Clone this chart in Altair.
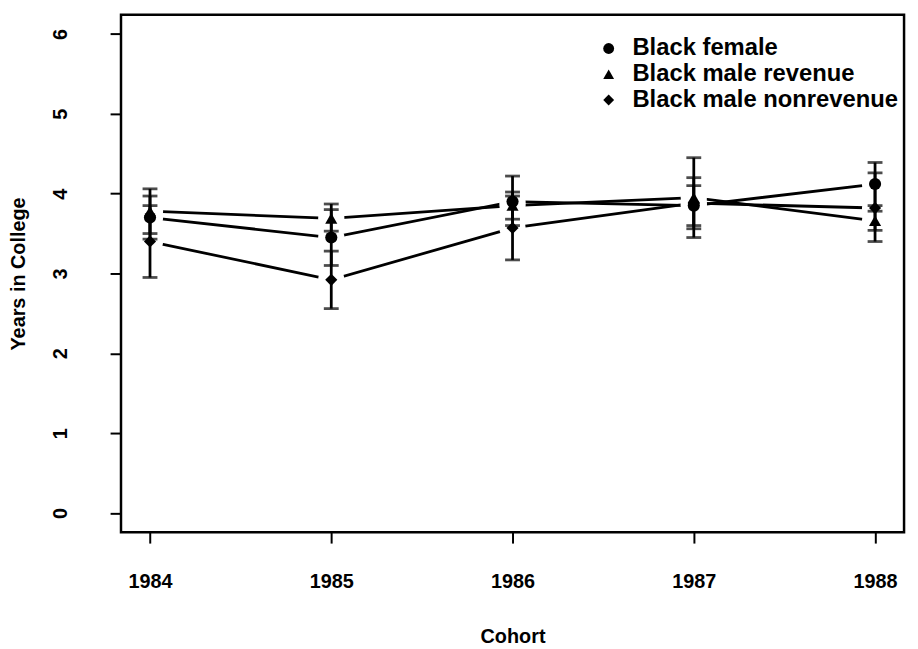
import altair as alt
import pandas as pd

years = [1984, 1985, 1986, 1987, 1988]
series_names = ["Black female", "Black male revenue", "Black male nonrevenue"]

female = [3.70, 3.45, 3.90, 3.85, 4.12]
female_lo = [3.43, 3.10, 3.60, 3.60, 3.85]
female_hi = [3.97, 3.80, 4.22, 4.10, 4.39]

revenue = [3.78, 3.69, 3.85, 3.95, 3.66]
revenue_lo = [3.50, 3.53, 3.68, 3.45, 3.54]
revenue_hi = [4.06, 3.87, 4.02, 4.45, 3.78]

nonrevenue = [3.40, 2.92, 3.57, 3.88, 3.82]
nonrevenue_lo = [2.95, 2.56, 3.17, 3.56, 3.40]
nonrevenue_hi = [3.85, 3.28, 3.97, 4.20, 4.26]

y_ticks = [0, 1, 2, 3, 4, 5, 6]

rows = []
for name, vals, lo, hi in [
    (series_names[0], female, female_lo, female_hi),
    (series_names[1], revenue, revenue_lo, revenue_hi),
    (series_names[2], nonrevenue, nonrevenue_lo, nonrevenue_hi),
]:
    for yr, v, l, h in zip(years, vals, lo, hi):
        rows.append({"series": name, "year": yr, "value": v, "lo": l, "hi": h})
df = pd.DataFrame(rows)

FONT = "Liberation Sans"
axis_style = dict(
    domain=False, grid=False, tickColor="black", tickWidth=2, tickSize=11,
    labelFont=FONT, labelFontSize=20, labelFontWeight="bold", labelColor="black",
    titleFont=FONT, titleFontSize=20, titleFontWeight="bold", titleColor="black",
)

xscale = alt.Scale(domain=[1983.84, 1988.16], nice=False, zero=False)
yscale = alt.Scale(domain=[-0.24, 6.24], nice=False, zero=False)

x = alt.X("year:Q", scale=xscale,
          axis=alt.Axis(values=years, format="d", title="Cohort",
                        labelPadding=29, titlePadding=35, **axis_style))
y = alt.Y("value:Q", scale=yscale,
          axis=alt.Axis(values=y_ticks, format="d", title="Years in College",
                        labelAngle=270, labelAlign="center", labelBaseline="bottom",
                        labelPadding=40, titlePadding=22, **axis_style))

base = alt.Chart(df)

lines = base.mark_line(color="black", strokeWidth=2.8).encode(x=x, y=y, detail="series:N")

mask = base.mark_point(filled=True, color="white", opacity=1, size=700,
                       shape="circle", strokeWidth=0).encode(x=x, y=y)

rules = base.mark_rule(color="black", strokeWidth=2.8).encode(
    x=x, y=alt.Y("lo:Q", scale=yscale), y2="hi:Q")

caps_lo = base.mark_tick(color="black", orient="horizontal", size=15, thickness=2.8).encode(
    x=x, y=alt.Y("lo:Q", scale=yscale))
caps_hi = base.mark_tick(color="black", orient="horizontal", size=15, thickness=2.8).encode(
    x=x, y=alt.Y("hi:Q", scale=yscale))

points = base.mark_point(filled=True, color="black", opacity=1, size=150).encode(
    x=x, y=y,
    shape=alt.Shape("series:N",
                    scale=alt.Scale(domain=series_names,
                                    range=["circle", "triangle-up", "diamond"]),
                    legend=alt.Legend(orient="none", legendX=480, legendY=22,
                                      title=None, labelFontSize=24, labelFont=FONT,
                                      labelFontWeight="bold", labelColor="black",
                                      labelLimit=0,
                                      symbolSize=120, symbolFillColor="black",
                                      symbolStrokeWidth=0, rowPadding=2,
                                      labelOffset=12, padding=0)),
)

chart = alt.layer(lines, mask, rules, caps_lo, caps_hi, points).properties(
    width=790, height=522,
    background="white",
    autosize=alt.AutoSizeParams(type="none"),
    padding={"left": 114, "top": 4, "right": 6, "bottom": 112},
).configure_view(
    stroke="black", strokeWidth=2.5
)

chart.save("out.html", embed_options={"renderer": "svg", "actions": False})
